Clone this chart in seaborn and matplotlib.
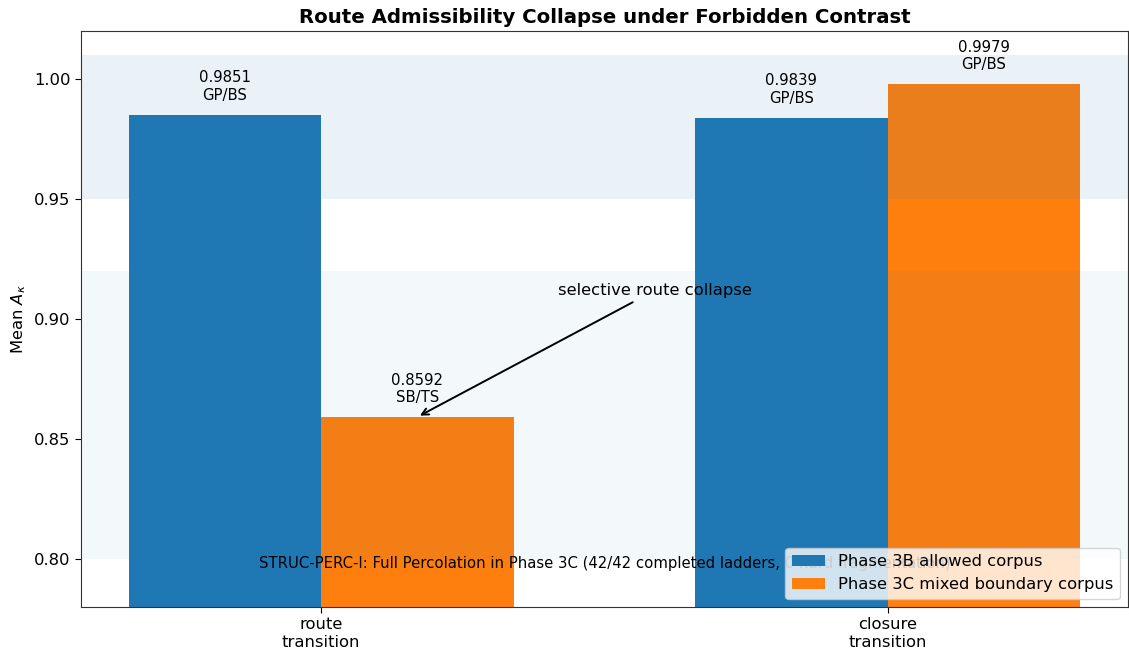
import pandas as pd
import numpy as np
import matplotlib.pyplot as plt
import seaborn as sns

# --- chart data ---
categories = ['route\ntransition', 'closure\ntransition']
phases = ['Phase 3B allowed corpus', 'Phase 3C mixed boundary corpus']
phase_3b = [0.9851, 0.9839]
phase_3c = [0.8592, 0.9979]
labels_3b = ['GP/BS', 'GP/BS']
labels_3c = ['SB/TS', 'GP/BS']
footer = 'STRUC-PERC-I: Full Percolation in Phase 3C (42/42 completed ladders, 0 hard fragmentation)'

df = pd.DataFrame({
    'category': categories * 2,
    'phase': [phases[0]] * 2 + [phases[1]] * 2,
    'value': phase_3b + phase_3c,
    'tag': labels_3b + labels_3c,
})

sns.set_style('white')
plt.rcParams['font.family'] = ['DejaVu Sans']
plt.rcParams.update({'text.color': 'black', 'axes.labelcolor': 'black',
                     'xtick.color': 'black', 'ytick.color': 'black'})

fig, ax = plt.subplots(figsize=(11.29, 6.57), dpi=100)
fig.subplots_adjust(left=0.0717, right=0.999, top=0.953, bottom=0.076)

sns.barplot(data=df, x='category', y='value', hue='phase', hue_order=phases,
            palette=['#1f77b4', '#ff7f0e'], width=0.68, gap=0, saturation=1,
            errorbar=None, linewidth=0, ax=ax)

# bands drawn over the bars
ax.axhspan(0.95, 1.01, color='#1f77b4', alpha=0.09, lw=0)
ax.axhspan(0.80, 0.92, color='#1f77b4', alpha=0.05, lw=0)

ax.set_ylim(0.78, 1.02)
ax.set_xlim(-0.424, 1.424)

# value labels
tags = [labels_3b, labels_3c]
for cont, vals, tg in zip(ax.containers, [phase_3b, phase_3c], tags):
    for bar, v, t in zip(cont, vals, tg):
        ax.text(bar.get_x() + bar.get_width() / 2, v + 0.005, f'{v:.4f}\n{t}',
                ha='center', va='bottom', fontsize=10.7)

route_bar = ax.containers[1][0]
ax.annotate('selective route collapse',
            xy=(route_bar.get_x() + route_bar.get_width() / 2, phase_3c[0]),
            xytext=(0.59, 0.912), ha='center', va='center', fontsize=11.8,
            arrowprops=dict(arrowstyle='->', color='black', lw=1.4))

ax.text(0.5, 0.076, footer, transform=ax.transAxes, ha='center', va='center', fontsize=10.7)

ax.set_title('Route Admissibility Collapse under Forbidden Contrast', fontsize=14.2, fontweight='bold')
ax.set_ylabel(r'Mean $A_\kappa$', fontsize=11.8)
ax.set_xlabel('')
ax.tick_params(axis='both', labelsize=11.8, length=4, left=True, bottom=True)
for s in ax.spines.values():
    s.set_color('#333333')
ax.legend(loc='lower right', fontsize=11.8)

plt.savefig('out.png')
